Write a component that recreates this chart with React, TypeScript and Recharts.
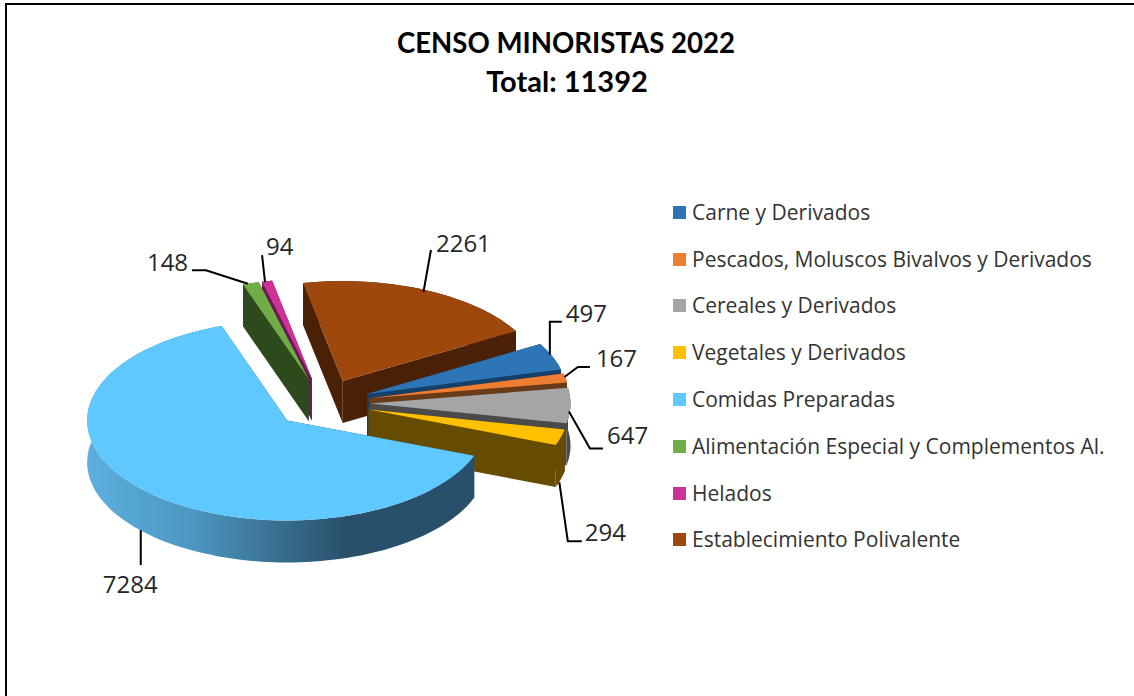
import { PieChart, Pie, Legend } from "recharts"

const CATEGORIES = [
  "Carne y Derivados",
  "Pescados, Moluscos Bivalvos y Derivados",
  "Cereales y Derivados",
  "Vegetales y Derivados",
  "Comidas Preparadas",
  "Alimentación Especial y Complementos Al.",
  "Helados",
  "Establecimiento Polivalente",
]
const VALUES = [497, 167, 647, 294, 7284, 148, 94, 2261]
const TOP_COLORS = ["#2E75B6", "#ED7D31", "#A5A5A5", "#FFC000", "#5FC8FF", "#70AD47", "#CC3399", "#9E480E"]
const SIDE_COLORS = ["#14406A", "#6B3A16", "#4A4A4A", "#664C00", "#28506A", "#2D4A1D", "#6E1A52", "#4A2106"]
const EXPLODE = [47.5, 47.5, 47.5, 47.5, 50, 50, 50, 48]

// how each leader runs, relative to the rim point of its slice, and where its number sits
const LEADER_PATHS = [
  [[-2.4, -1.7], [-2.4, -34.7], [9.6, -34.7]],
  [[-1, -1], [12.5, -11], [24.5, -11]],
  [[-1.5, 6], [19.5, 43], [32.5, 43]],
  [[-1.5, 3], [7, 62], [21, 62]],
  [[-3, -2], [-3, 33]],
  [[-3, 0.5], [-45, -13], [-59, -13]],
  [[-2, 1], [-5, -26]],
  [[-1.5, 2], [6, -40]],
]
const LABEL_OFFSETS = [[13.6, -34], [30.5, -11], [36.5, 38], [24, 62], [-41, 61], [-104, -12], [-1, -26], [11, -38]]

const SQUASH = 0.5 // tilt of the pie
const DEPTH = 42 // height of the 3D wall
const FIRST_SLICE_ANGLE = 60
const FONT = "'Open Sans', sans-serif"

// slices get painted back to front, so the pie starts at Helados and ends at Alimentacion
const DRAW_ORDER = [6, 7, 0, 1, 2, 3, 4, 5]
const pieData = DRAW_ORDER.map((i) => ({ name: CATEGORIES[i], value: VALUES[i], idx: i }))
const total = VALUES.reduce((a, b) => a + b, 0)
const startAngle = 90 - FIRST_SLICE_ANGLE + ((VALUES[6] + VALUES[7]) / total) * 360

const rad = (deg: number) => (deg * Math.PI) / 180

function rimPoint(cx: number, cy: number, r: number, angle: number) {
  return [cx + r * Math.cos(rad(angle)), cy - r * Math.sin(rad(angle)) * SQUASH]
}

function pathOf(points: number[][]) {
  return "M" + points.map((p) => `${p[0].toFixed(1)},${p[1].toFixed(1)}`).join("L") + "Z"
}

function Slice(props: any) {
  const { cx, cy, outerRadius, startAngle: a0, endAngle: a1, midAngle, payload } = props
  const i = payload.idx
  const [ox, oy] = rimPoint(cx, cy, EXPLODE[i], midAngle)
  const apex = [ox, oy]
  const steps = Math.max(4, Math.ceil(Math.abs(a1 - a0) / 2))
  const rim: number[][] = []
  for (let s = 0; s <= steps; s++) {
    rim.push(rimPoint(ox, oy, outerRadius, a0 + ((a1 - a0) * s) / steps))
  }
  const down = (p: number[]) => [p[0], p[1] + DEPTH]
  const first = rim[0]
  const last = rim[rim.length - 1]
  const side = SIDE_COLORS[i]
  const wallFill = i === 4 ? "url(#comidasWall)" : side
  return (
    <g>
      <path d={pathOf([apex, first, down(first), down(apex)])} fill={side} />
      <path d={pathOf([apex, last, down(last), down(apex)])} fill={side} />
      <path d={pathOf([...rim, ...rim.map(down).reverse()])} fill={wallFill} />
      <path d={pathOf([apex, ...rim])} fill={TOP_COLORS[i]} />
    </g>
  )
}

function DataLabel(props: any) {
  const { cx, cy, outerRadius, midAngle, index } = props
  const d = pieData[index]
  const [ax, ayTop] = rimPoint(cx, cy, outerRadius + EXPLODE[d.idx], midAngle)
  // front slices hang the leader off the bottom of the wall
  const ay = Math.sin(rad(midAngle)) < -0.05 ? ayTop + DEPTH : ayTop
  const pts = LEADER_PATHS[d.idx].map((o) => [ax + o[0], ay + o[1]])
  const off = LABEL_OFFSETS[d.idx]
  return (
    <g>
      <polyline
        points={pts.map((p) => p.join(",")).join(" ")}
        fill="none"
        stroke="#000"
        strokeWidth={2}
      />
      <text x={ax + off[0]} y={ay + off[1]} fontFamily={FONT} fontSize={24} fill="#262626">
        {d.value}
      </text>
    </g>
  )
}

function LegendList() {
  return (
    <div style={{ fontFamily: FONT, fontSize: 21, color: "#333", lineHeight: "27px" }}>
      {CATEGORIES.map((c, i) => (
        <div key={c} style={{ display: "flex", alignItems: "center", height: 46.8, whiteSpace: "nowrap" }}>
          <span style={{ width: 13, height: 13, background: TOP_COLORS[i], marginRight: 6, flexShrink: 0 }} />
          {c}
        </div>
      ))}
    </div>
  )
}

export default function App() {
  return (
    <div style={{ position: "absolute", left: 0, top: 0, width: 1134, height: 696, background: "#fff", overflow: "hidden" }}>
      {/* frame of the pasted chart, cut off at the right and bottom */}
      <div style={{ position: "absolute", left: 5, top: 3, width: 1200, height: 800, borderTop: "2px solid #000", borderLeft: "2px solid #000" }} />
      <PieChart width={1134} height={696} margin={{ top: 0, right: 0, bottom: 0, left: 0 }}>
        <defs>
          <linearGradient id="comidasWall" gradientUnits="userSpaceOnUse" x1="87" y1="0" x2="345" y2="0">
            <stop offset="0%" stopColor="#5CAFDE" />
            <stop offset="40%" stopColor="#4D98C2" />
            <stop offset="100%" stopColor="#28506A" />
          </linearGradient>
        </defs>
        <text x={566} y={53} textAnchor="middle" fontFamily="Lato, sans-serif" fontWeight={700} fontSize={27.6} fill="#000">
          CENSO MINORISTAS 2022
        </text>
        <text x={567} y={92} textAnchor="middle" fontFamily="Lato, sans-serif" fontWeight={700} fontSize={29} fill="#000">
          Total: 11392
        </text>
        <Pie
          data={pieData}
          dataKey="value"
          nameKey="name"
          cx={323}
          cy={403}
          outerRadius={200}
          startAngle={startAngle}
          endAngle={startAngle - 360}
          stroke="none"
          shape={Slice}
          label={DataLabel}
          labelLine={false}
          isAnimationActive={false}
        />
        <Legend
          content={LegendList}
          layout="vertical"
          wrapperStyle={{ left: 673, top: 189, width: 450, bottom: "auto" }}
        />
      </PieChart>
    </div>
  )
}
